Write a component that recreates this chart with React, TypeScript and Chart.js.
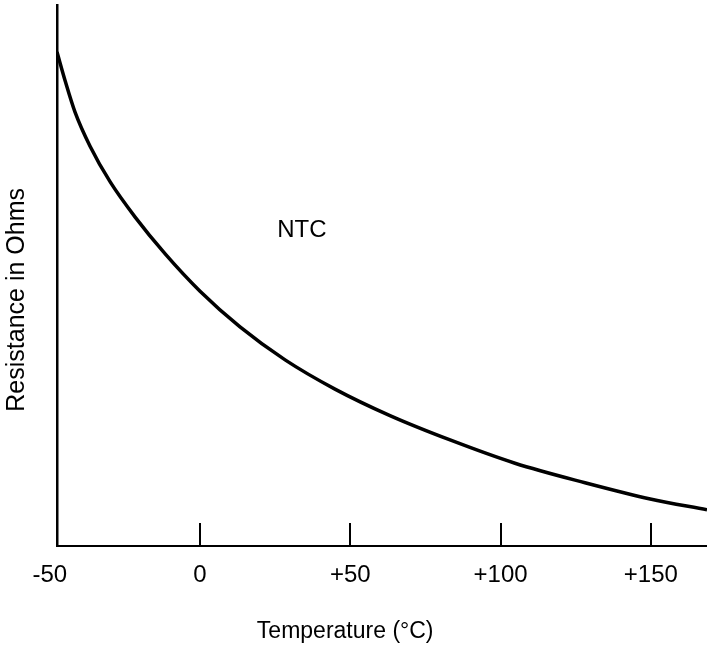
import React, { useEffect, useRef } from "react";
import { Chart, registerables } from "chart.js";

Chart.register(...registerables);

// Temperature (°C)
const temperatures = [
  -47.6, -44.9, -41.6, -36.6, -29.9, -21.6, -11.6, 0, 13.3, 28.3, 44.9, 63.2,
  83.2, 104.8, 128.1, 149.8, 168.7,
];
// Resistance (relative units, axis unlabeled)
const resistance = [
  91.3, 86.0, 80.2, 73.9, 67.3, 60.8, 54.0, 47.1, 40.5, 34.4, 29.0, 24.1, 19.6,
  15.3, 11.7, 8.7, 6.7,
];

const tickValues = [-50, 0, 50, 100, 150];
const tickLabels = ["-50", "0", "+50", "+100", "+150"];

const X_MIN = -47.6;
const X_MAX = 168.7;
const Y_MIN = 0;
const Y_MAX = 100;

const curveLabel = "NTC";
const curveLabelAt = { t: 33.9, r: 58.4 };

const xTitle = "Temperature (°C)";
const yTitle = "Resistance in Ohms";

const FONT = "'Liberation Sans', Arial, sans-serif";

export default function App() {
  const ref = useRef<HTMLCanvasElement | null>(null);

  useEffect(() => {
    if (!ref.current) return;
    const decor = {
      id: "decor",
      afterDatasetsDraw(chart: any) {
        const { ctx, chartArea, scales } = chart;
        const x = scales.x;
        const y = scales.y;
        ctx.save();
        ctx.strokeStyle = "#000";
        ctx.lineWidth = 2;
        tickValues
          .filter((v) => v > X_MIN)
          .forEach((v) => {
            const px = Math.round(x.getPixelForValue(v));
            ctx.beginPath();
            ctx.moveTo(px, chartArea.bottom);
            ctx.lineTo(px, chartArea.bottom - 23);
            ctx.stroke();
          });
        ctx.fillStyle = "#000";
        ctx.textAlign = "center";
        ctx.textBaseline = "middle";
        ctx.font = `24px ${FONT}`;
        ctx.fillText(
          curveLabel,
          x.getPixelForValue(curveLabelAt.t),
          y.getPixelForValue(curveLabelAt.r)
        );
        ctx.font = `23px ${FONT}`;
        ctx.fillText(xTitle, x.getPixelForValue(48.3), chartArea.bottom + 86);
        ctx.translate(17, y.getPixelForValue(45.5));
        ctx.rotate(-Math.PI / 2);
        ctx.font = `25px ${FONT}`;
        ctx.fillText(yTitle, 0, 0);
        ctx.restore();
      },
    };

    const chart = new Chart(ref.current, {
      type: "line",
      data: {
        labels: temperatures,
        datasets: [
          {
            data: temperatures.map((t, i) => ({ x: t, y: resistance[i] })),
            borderColor: "#000",
            borderWidth: 3.5,
            pointRadius: 0,
            cubicInterpolationMode: "monotone",
            fill: false,
          },
        ],
      },
      options: {
        animation: false,
        responsive: true,
        maintainAspectRatio: false,
        layout: { padding: { top: 5, left: 0, right: 0, bottom: 0 } },
        plugins: {
          legend: { display: false },
          tooltip: { enabled: false },
        },
        scales: {
          x: {
            type: "linear",
            min: X_MIN,
            max: X_MAX,
            afterBuildTicks: (scale: any) => {
              scale.ticks = tickValues.map((v) => ({ value: v }));
            },
            afterFit: (scale: any) => {
              scale.height = 102;
            },
            grid: { display: false, drawTicks: false },
            border: { display: true, color: "#000", width: 2 },
            ticks: {
              autoSkip: false,
              maxRotation: 0,
              padding: 15,
              color: "#000",
              font: { family: FONT, size: 24 },
              callback: (_v: any, i: number) => tickLabels[i],
            },
          },
          y: {
            type: "linear",
            min: Y_MIN,
            max: Y_MAX,
            afterFit: (scale: any) => {
              scale.width = 57;
            },
            grid: { display: false, drawTicks: false },
            border: { display: true, color: "#000", width: 2.5 },
            ticks: { display: false },
          },
        },
      },
      plugins: [decor],
    });
    return () => chart.destroy();
  }, []);

  return (
    <div
      style={{
        position: "fixed",
        left: 0,
        top: 0,
        width: 707,
        height: 648,
        background: "#fff",
      }}
    >
      <canvas ref={ref} />
    </div>
  );
}
